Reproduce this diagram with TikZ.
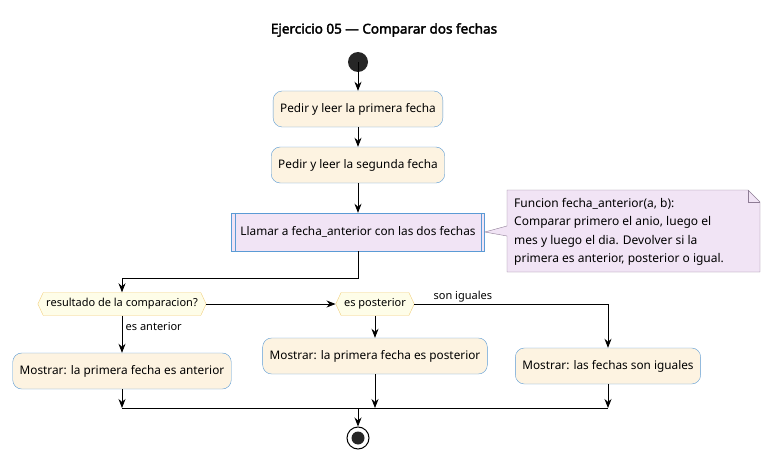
\documentclass[tikz,border=0pt]{standalone}
\usepackage{fontspec}
\setmainfont{Noto Sans}
\newfontfamily\titlefont{Noto Sans}[FakeBold=2.5]
\usetikzlibrary{arrows.meta,shapes.geometric,shapes.symbols,positioning}
\definecolor{actfill}{HTML}{FDF3E1}
\definecolor{actline}{HTML}{5B9BD5}
\definecolor{subfill}{HTML}{F1E4F5}
\definecolor{decfill}{HTML}{FEFDE8}
\definecolor{decline}{HTML}{F2CF7D}
\definecolor{noteline}{HTML}{8E7C95}
\tikzset{
  act/.style={draw=actline,fill=actfill,rounded corners=9pt,inner xsep=7pt,minimum height=36pt,font=\fontsize{11.8}{14}\selectfont},
  dec/.style={draw=decline,fill=decfill,signal,signal to=west and east,signal pointer angle=130,inner xsep=3pt,minimum height=23pt,font=\fontsize{11}{13}\selectfont},
  flow/.style={-{Stealth[length=9pt,width=7pt]},line width=0.8pt},
  line/.style={line width=0.8pt},
  lbl/.style={font=\fontsize{11}{13}\selectfont}
}
\begin{document}
\begin{tikzpicture}[x=1pt,y=-1pt]
   \useasboundingbox (0,0) rectangle (769,460);
   \node [font=\titlefont\fontsize{13.5}{16}\selectfont] (title) at (384,30) {Ejercicio 05 — Comparar dos fechas};
   \fill [black!85] (358,62) circle (10) coordinate (start);
   \node [act] (leer1) at (358,109) {Pedir y leer la primera fecha};
   \node [act] (leer2) at (358,165) {Pedir y leer la segunda fecha};
   \node [act,fill=subfill,rounded corners=0pt,minimum height=38pt,inner xsep=9pt] (llamar) at (358,232) {Llamar a fecha\_anterior con las dos fechas};
   \draw [actline] ([xshift=4pt]llamar.north west) -- ([xshift=4pt]llamar.south west)
                   ([xshift=-4pt]llamar.north east) -- ([xshift=-4pt]llamar.south east);
   % nota
   \draw [noteline,fill=subfill] (507,190) -- (748,190) -- (760,202) -- (760,272) -- (507,272) -- (507,236) -- (llamar.east) -- (507,226) -- cycle;
   \draw [noteline] (748,190) -- (748,202) -- (760,202);
   \node [align=left,anchor=north west,inner sep=0pt,font=\fontsize{12}{18.5}\selectfont] (nota) at (514,198)
     {Funcion fecha\_anterior(a, b):\\Comparar primero el anio, luego el\\mes y luego el dia. Devolver si la\\primera es anterior, posterior o igual.};
   % decisiones
   \node [dec] (cmp) at (122,304) {resultado de la comparacion?};
   \node [dec] (post) at (375,304) {es posterior};
   \node [act] (ant) at (122,371) {Mostrar: la primera fecha es anterior};
   \node [act] (mpost) at (375,356) {Mostrar: la primera fecha es posterior};
   \node [act] (igual) at (608,366) {Mostrar: las fechas son iguales};
   \coordinate (join) at (375,408);
   \node [circle,draw,line width=1pt,minimum size=22pt,inner sep=0pt] (fin) at (358,438) {};
   \fill [black!85] (fin) circle (6.5);
   % flechas
   \draw [flow] (start) -- (leer1);
   \draw [flow] (leer1) -- (leer2);
   \draw [flow] (leer2) -- (llamar);
   \draw [flow] (llamar.south) |- (122,278) -- (cmp.north);
   \draw [flow] (cmp.east) -- (post.west);
   \draw [flow] (cmp.south) -- node [lbl,right,pos=0.3] {es anterior} (ant.north);
   \draw [flow] (post.south) -- (mpost.north);
   \draw [flow] (post.east) -- node [lbl,above,pos=0.25,inner sep=1pt] {son iguales} (608,304) -- (igual.north);
   \draw [flow] (ant.south) -- (ant.south |- join);
   \draw [flow] (mpost.south) -- (join);
   \draw [flow] (igual.south) -- (igual.south |- join);
   \draw [line] (ant.south |- join) -- (igual.south |- join);
   \draw [flow] (358,408) -- (fin.north);
\end{tikzpicture}
\end{document}
